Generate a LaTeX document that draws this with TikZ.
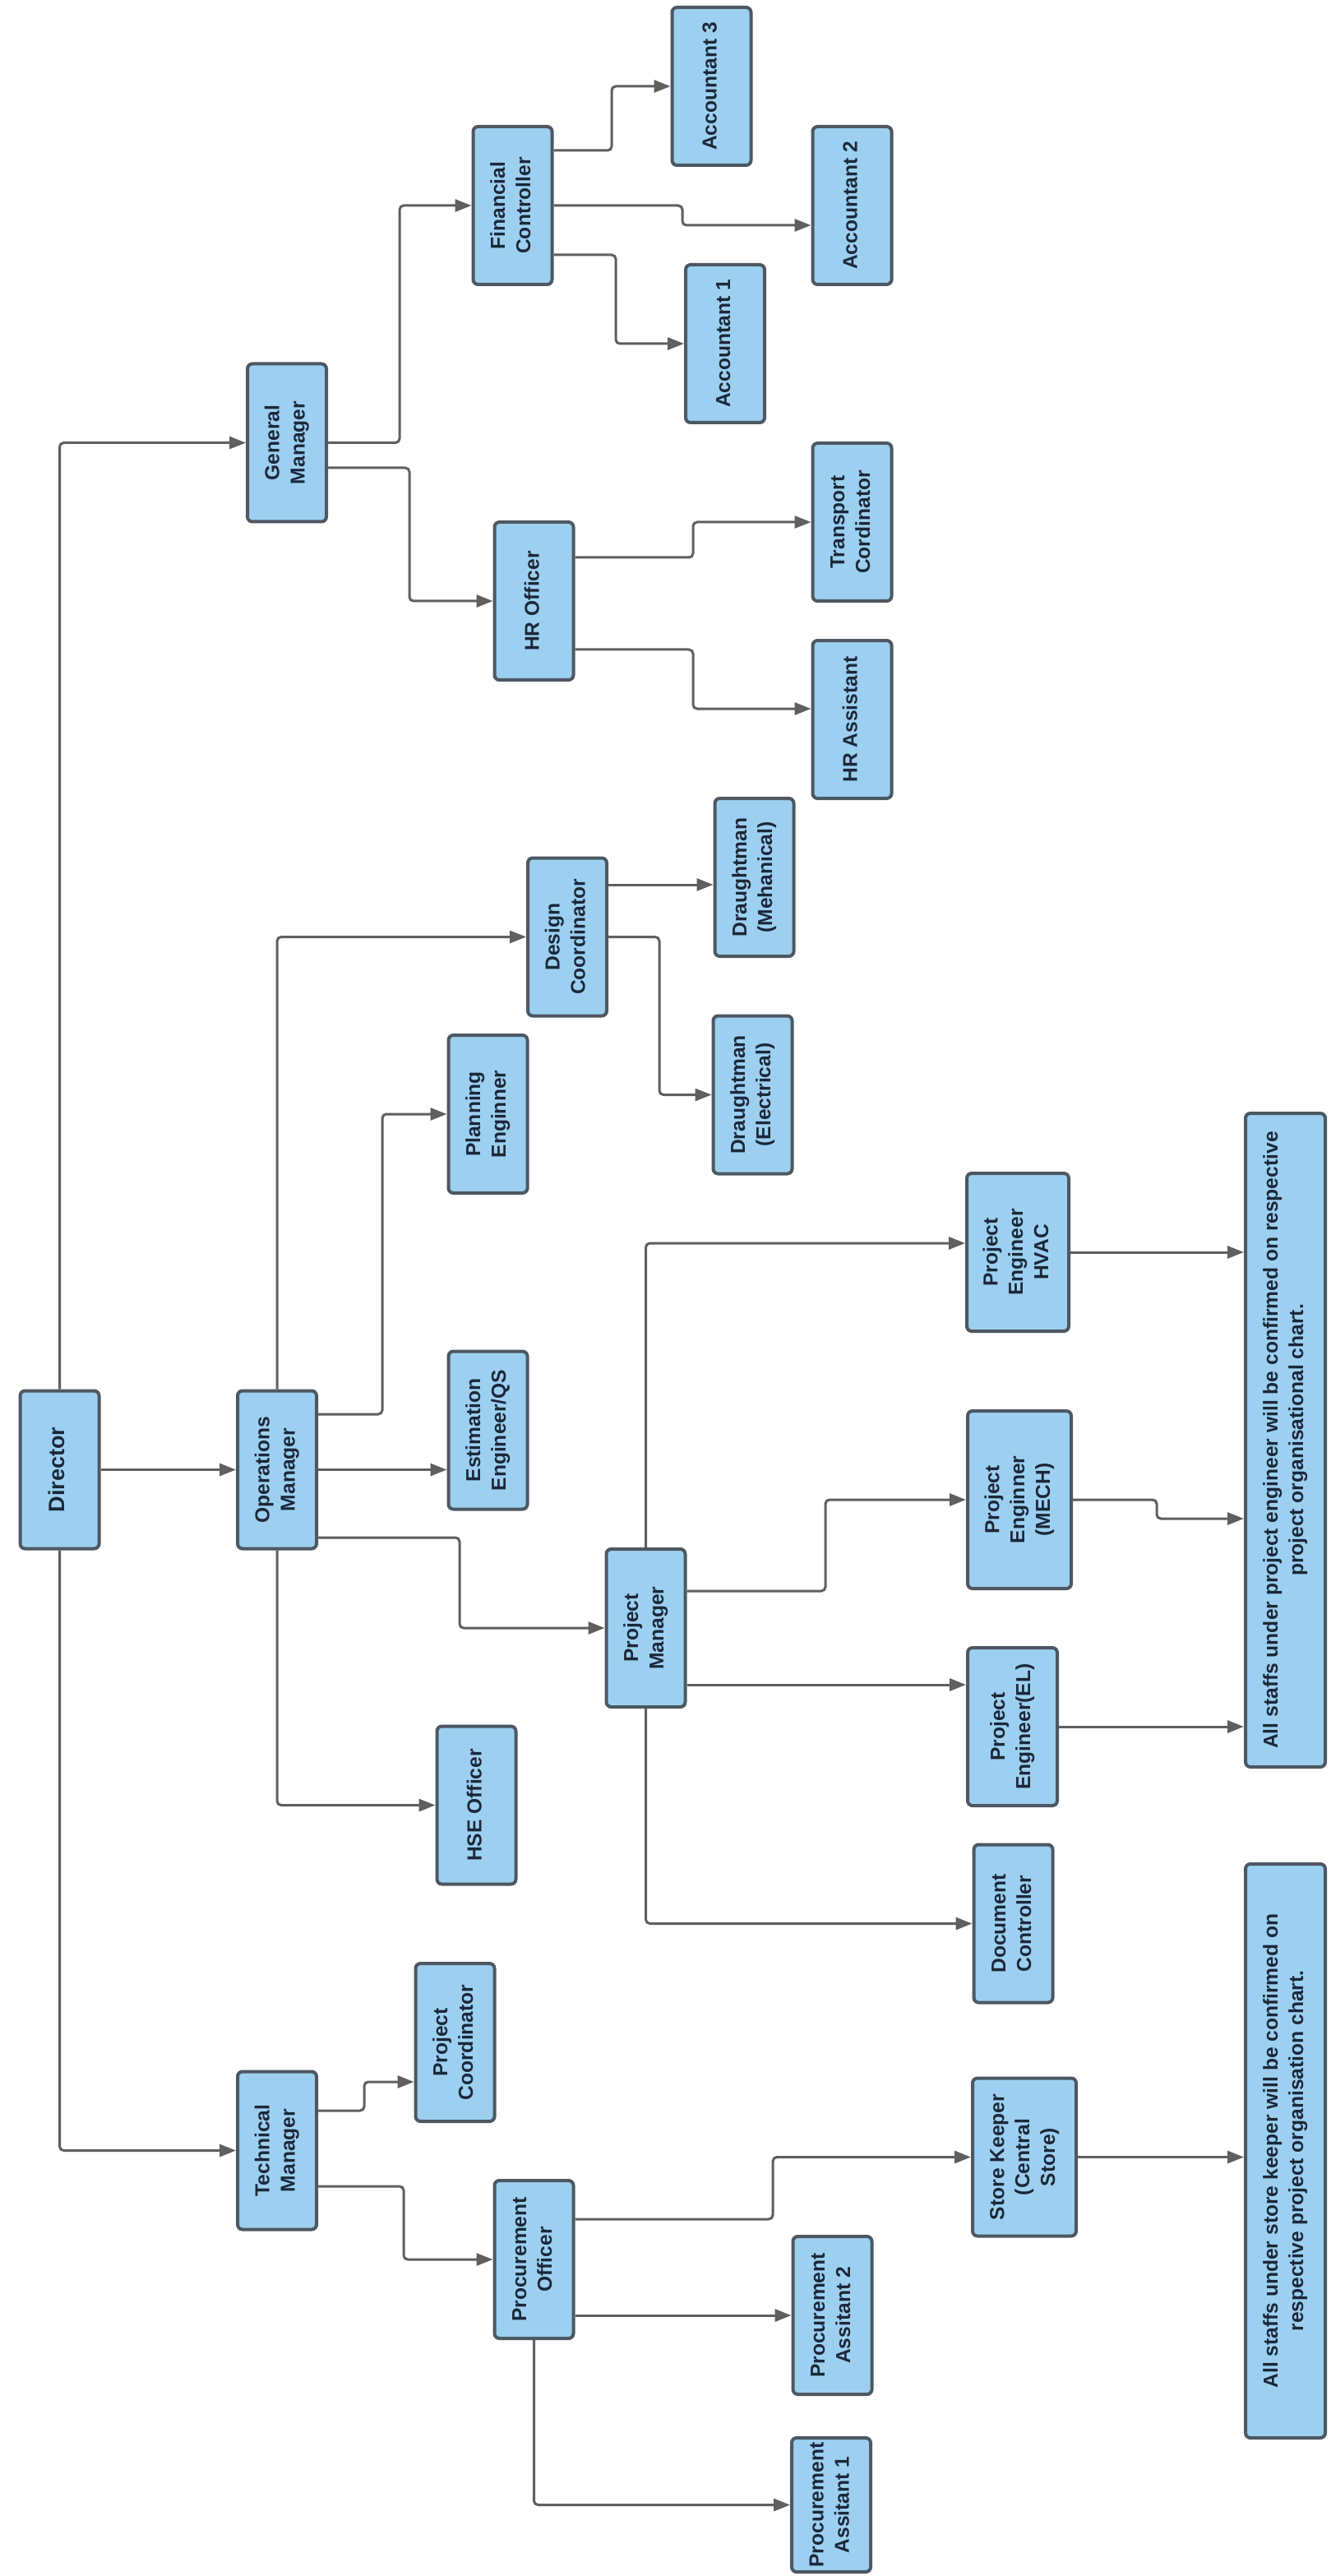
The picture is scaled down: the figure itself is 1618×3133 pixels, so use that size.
\documentclass[tikz,border=0pt]{standalone}
\usepackage{fontspec}
\setmainfont{Liberation Sans}
\usepackage{graphicx}
\usetikzlibrary{arrows.meta}

\definecolor{boxfill}{RGB}{157,208,240}
\definecolor{boxline}{RGB}{77,88,98}
\definecolor{boxtext}{RGB}{27,40,58}
\definecolor{linkgray}{RGB}{95,95,95}

\newcommand{\vlab}[1]{\rotatebox{90}{\begin{tabular}{@{}c@{}}#1\end{tabular}}}

\tikzset{
  box/.style={draw=boxline, fill=boxfill, line width=0.4mm, rounded corners=0.6mm, inner sep=0pt,
    minimum width=9.6mm, minimum height=19.2mm, text=boxtext, font=\bfseries\fontsize{7}{8.8}\selectfont},
  link/.style={draw=linkgray, line width=0.3mm, rounded corners=0.5mm, -{Triangle[length=2mm,width=1.5mm]}}
}

\begin{document}
\begin{tikzpicture}[x=0.1mm, y=-0.1mm]
        \fill[white] (0,0) rectangle (1618,3133);
        \useasboundingbox (0,0) rectangle (1618,3133);

        \node[box, font=\bfseries\fontsize{7.7}{9}\selectfont] (director) at (72.5,1787.5) {\vlab{Director}};
        \node[box] (ops) at (337,1787.5) {\vlab{Operations\\Manager}};
        \node[box] (gm) at (349,538.5) {\vlab{General\\Manager}};
        \node[box] (tech) at (337,2615.5) {\vlab{Technical\\Manager}};

        \node[box] (fc) at (623.5,250) {\vlab{Financial\\Controller}};
        \node[box] (hr) at (649.5,731) {\vlab{HR Officer}};
        \node[box] (acc3) at (865.5,105) {\vlab{Accountant 3}};
        \node[box] (acc2) at (1036.5,250) {\vlab{Accountant 2}};
        \node[box] (acc1) at (882,418) {\vlab{Accountant 1}};
        \node[box] (transport) at (1036.5,635) {\vlab{Transport\\Cordinator}};
        \node[box] (hrasst) at (1036.5,875) {\vlab{HR Assistant}};

        \node[box] (design) at (690,1139.5) {\vlab{Design\\Coordinator}};
        \node[box] (planning) at (593.5,1355) {\vlab{Planning\\Enginner}};
        \node[box] (estimation) at (593.5,1739.5) {\vlab{Estimation\\Engineer/QS}};
        \node[box] (hse) at (579.5,2195.5) {\vlab{HSE Officer}};
        \node[box] (pm) at (785.5,1980) {\vlab{Project\\Manager}};
        \node[box] (dmech) at (917.5,1067) {\vlab{Draughtman\\(Mehanical)}};
        \node[box] (delec) at (915.5,1331.5) {\vlab{Draughtman\\(Electrical)}};

        \node[box, minimum width=12.4mm] (hvac) at (1238,1523) {\vlab{Project\\Engineer\\HVAC}};
        \node[box, minimum width=12.6mm, minimum height=21.6mm] (mech) at (1240,1824) {\vlab{Project\\Enginner\\(MECH)}};
        \node[box, minimum width=10.9mm] (el) at (1231.5,2100) {\vlab{Project\\Engineer(EL)}};
        \node[box] (doc) at (1232.5,2339.5) {\vlab{Document\\Controller}};
        \node[box, minimum width=9.7mm, minimum height=79.5mm] (note1) at (1563.5,1751.5) {\vlab{All staffs under project engineer will be confirmed on respective\\project organisational chart.}};

        \node[box] (pc) at (553.5,2484) {\vlab{Project\\Coordinator}};
        \node[box] (po) at (649.5,2748) {\vlab{Procurement\\Officer}};
        \node[box, minimum width=12.6mm] (sk) at (1246,2623.5) {\vlab{Store Keeper\\(Central\\Store)}};
        \node[box] (pa2) at (1012.5,2816) {\vlab{Procurement\\Assitant 2}};
        \node[box, minimum height=16.3mm] (pa1) at (1011,3046.5) {\vlab{Procurement\\Assitant 1}};
        \node[box, minimum width=9.7mm, minimum height=69.8mm] (note2) at (1563.5,2616) {\vlab{All staffs under store keeper will be confirmed on\\respective project organisation chart.}};

        \draw[link] (director.north) |- (gm.west);
        \draw[link] (director.east) -- (ops.west);
        \draw[link] (director.south) |- (tech.west);

        \draw[link] (gm.east) -- (486,538.5) |- (fc.west);
        \draw[link] (gm.east |- 0,569) -- (498,569) |- (hr.west);
        \draw[link] (fc.east |- 0,183) -- (744,183) |- (acc3.west);
        \draw[link] (fc.east) -- (830,250) -- (830,274) -- (acc2.west |- 0,274);
        \draw[link] (fc.east |- 0,310) -- (749,310) |- (acc1.west);
        \draw[link] (hr.east |- 0,678) -- (843,678) |- (transport.west);
        \draw[link] (hr.east |- 0,790) -| (843,862) -- (hrasst.west |- 0,862);

        \draw[link] (ops.north) |- (design.west);
        \draw[link] (ops.east |- 0,1720) -- (465,1720) |- (planning.west);
        \draw[link] (ops.east) -- (estimation.west |- ops.east);
        \draw[link] (ops.east |- 0,1870) -- (559,1870) |- (pm.west);
        \draw[link] (ops.south) |- (hse.west);
        \draw[link] (design.east |- 0,1076) -- (dmech.west |- 0,1076);
        \draw[link] (design.east) -- (802,1139.5) |- (delec.west);

        \draw[link] (pm.north) |- (hvac.west |- 0,1512);
        \draw[link] (pm.east |- 0,1935) -- (1004,1935) |- (mech.west);
        \draw[link] (pm.east |- 0,2049) -- (el.west |- 0,2049);
        \draw[link] (pm.south) |- (doc.west);
        \draw[link] (hvac.east) -- (note1.west |- hvac.east);
        \draw[link] (mech.east) -- (1407,1824) -- (1407,1847) -- (note1.west |- 0,1847);
        \draw[link] (el.east) -- (note1.west |- el.east);

        \draw[link] (tech.east |- 0,2567) -- (443,2567) |- (pc.west |- 0,2532);
        \draw[link] (tech.east |- 0,2659) -- (491,2659) |- (po.west);
        \draw[link] (po.east |- 0,2699) -- (940,2699) |- (sk.west);
        \draw[link] (po.east |- pa2.west) -- (pa2.west);
        \draw[link] (po.south) |- (pa1.west);
        \draw[link] (sk.east) -- (note2.west |- sk.east);
    \end{tikzpicture}
\end{document}
